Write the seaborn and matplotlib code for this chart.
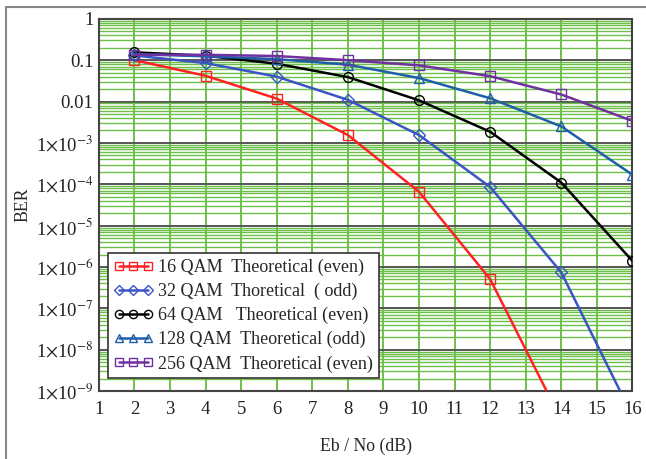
import matplotlib
matplotlib.use("Agg")
import matplotlib.pyplot as plt
import seaborn as sns
import numpy as np
from matplotlib.ticker import FixedLocator, LogLocator, NullFormatter
from matplotlib.lines import Line2D

# Eb/No (dB) at the marked points
ebno_16 = [2, 4, 6, 8, 10, 12, 14]
ebno = [2, 4, 6, 8, 10, 12, 14, 16]

ber_16 = [0.10, 0.042, 0.0118, 1.55e-3, 6.6e-5, 5.1e-7, 2e-10]
ber_32 = [0.13, 0.085, 0.040, 0.011, 1.55e-3, 8.6e-5, 7.4e-7, 2.5e-10]
ber_64 = [0.155, 0.128, 0.082, 0.039, 0.0107, 1.86e-3, 1.1e-4, 1.4e-6]
ber_128 = [0.14, 0.124, 0.106, 0.078, 0.037, 0.012, 2.5e-3, 1.7e-4]
ber_256 = [0.135, 0.135, 0.126, 0.10, 0.075, 0.041, 0.0148, 3.4e-3]

labels = ["16 QAM  Theoretical (even)",
          "32 QAM  Thoretical  ( odd)",
          "64 QAM   Theoretical (even)",
          "128 QAM  Theoretical (odd)",
          "256 QAM  Theoretical (even)"]

ytick_vals = [1, 0.1, 0.01, 1e-3, 1e-4, 1e-5, 1e-6, 1e-7, 1e-8, 1e-9]
ytick_labels = ["1", "0.1", "0.01"] + [r"1$\times$10$^{-%d}$" % k for k in range(3, 10)]
xticks = list(range(1, 17))

sns.set_style("white")
plt.rcParams['font.family'] = ['Liberation Serif', 'DejaVu Serif']
plt.rcParams['mathtext.fontset'] = 'stix'

fig = plt.figure(figsize=(6.46, 4.59), dpi=100)
ax = fig.add_axes([0.153, 0.148, 0.826, 0.811])

series = [
    (ebno_16, ber_16, "#ff2222", "s"),
    (ebno, ber_32, "#3a55c4", "D"),
    (ebno, ber_64, "#000000", "o"),
    (ebno, ber_128, "#1f5fa8", "^"),
    (ebno, ber_256, "#7030a0", "s"),
]
for (xs, ys, col, mk), lab in zip(series, labels):
    sns.lineplot(x=xs, y=ys, ax=ax, color=col, marker=mk, markersize=7 if mk != "D" else 6,
                 markerfacecolor="none", markeredgecolor=col, markeredgewidth=1.0,
                 linewidth=1.8, label=lab, zorder=3)

ax.set_yscale("log")
ax.set_ylim(1e-9, 1)
ax.set_xlim(1, 16)

ax.set_xticks(xticks)
ax.yaxis.set_major_locator(FixedLocator(ytick_vals))
ax.set_yticklabels(ytick_labels)
ax.yaxis.set_minor_locator(LogLocator(base=10, subs=np.arange(2, 10), numticks=20))
ax.yaxis.set_minor_formatter(NullFormatter())

ax.grid(True, axis="x", which="major", color="#6cc04a", linewidth=1.4)
ax.grid(True, axis="y", which="minor", color="#6cc04a", linewidth=1.0)
ax.grid(True, axis="y", which="major", color="#555555", linewidth=1.4)
ax.set_axisbelow(True)

ax.tick_params(axis="both", which="both", length=0, labelsize=13.5, colors="#222222")
ax.tick_params(axis="x", pad=7)
ax.tick_params(axis="y", pad=4)
for sp in ax.spines.values():
    sp.set_color("#444444")
    sp.set_linewidth(1.5)

ax.set_xlabel("Eb / No (dB)", fontsize=12.8, labelpad=14)
ax.set_ylabel("BER", fontsize=12.8)
ax.yaxis.set_label_coords(-0.127, 0.5)

leg = ax.legend(loc="lower left", bbox_to_anchor=(0.017, 0.035), borderaxespad=0,
                fontsize=13, numpoints=3, handlelength=2.2, handletextpad=0.3,
                labelspacing=0.38, borderpad=0.3, fancybox=False, framealpha=1,
                edgecolor="#333333", markerscale=0.85)
leg.get_frame().set_linewidth(1.2)

# page frame (left and top edges)
fig.add_artist(Line2D([0.009, 0.009], [0.0, 0.985], color="#888888", linewidth=1.5))
fig.add_artist(Line2D([0.009, 1.0], [0.985, 0.985], color="#888888", linewidth=1.5))

fig.savefig("out.png", dpi=100)
